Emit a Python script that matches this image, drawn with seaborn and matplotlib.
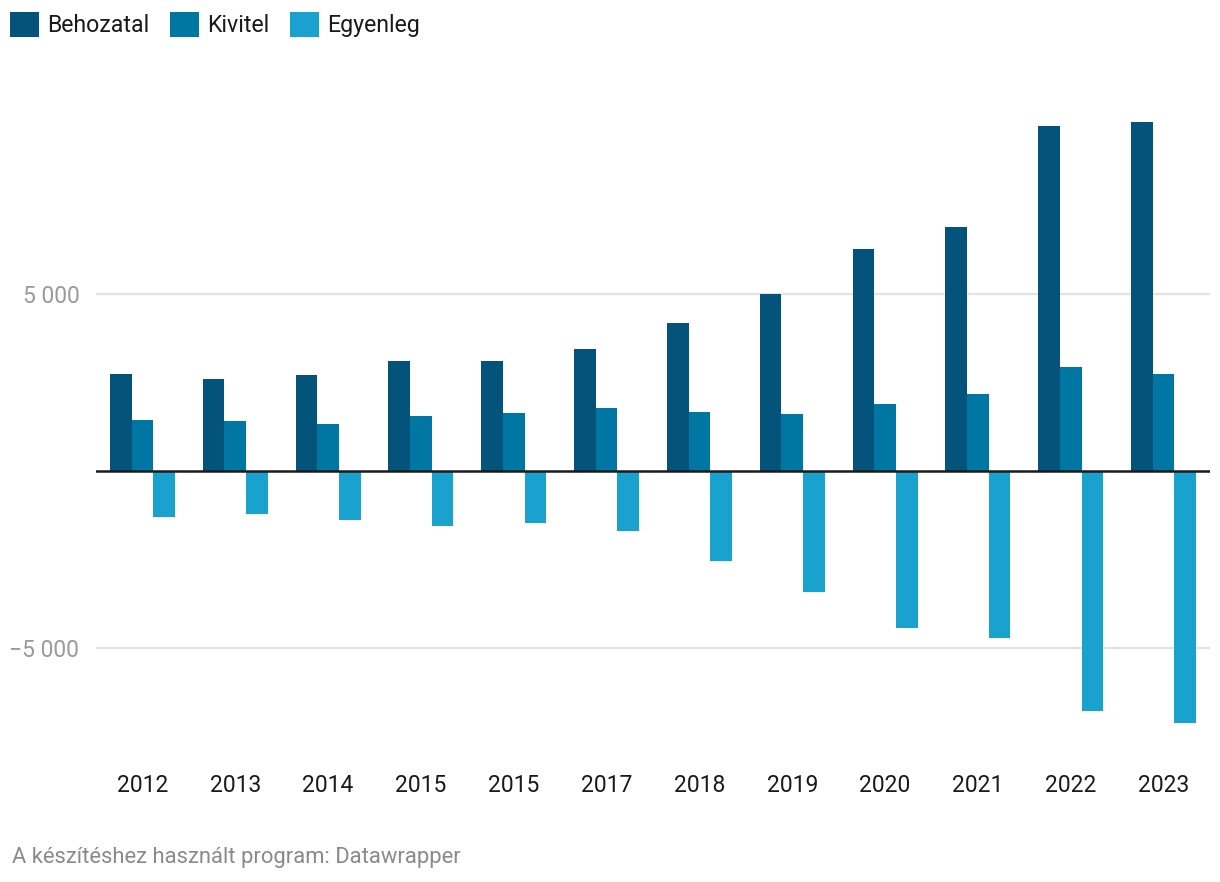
import matplotlib
matplotlib.use("Agg")
import matplotlib.pyplot as plt
import seaborn as sns
import pandas as pd

years = ["2012", "2013", "2014", "2015", "2015", "2017", "2018", "2019", "2020", "2021", "2022", "2023"]
behozatal = [2740, 2600, 2710, 3110, 3110, 3450, 4180, 5000, 6270, 6890, 9750, 9860]
kivitel = [1440, 1410, 1330, 1550, 1640, 1780, 1670, 1610, 1890, 2180, 2940, 2740]
egyenleg = [-1300, -1220, -1390, -1560, -1480, -1700, -2550, -3430, -4420, -4730, -6780, -7110]
series = ["Behozatal", "Kivitel", "Egyenleg"]
colors = ["#03537a", "#0077a2", "#19a2ce"]

rows = []
for i, y in enumerate(years):
    for s, vals in zip(series, [behozatal, kivitel, egyenleg]):
        rows.append({"pos": str(i), "series": s, "value": vals[i]})
df = pd.DataFrame(rows)

sns.set_style("white")
plt.rcParams["font.family"] = ["Roboto", "DejaVu Sans"]

fig = plt.figure(figsize=(12.2, 8.82), dpi=100)
ax = fig.add_axes([96 / 1220, 1 - 750 / 882, 1114 / 1220, 650 / 882])

sns.barplot(data=df, x="pos", y="value", hue="series", order=[str(i) for i in range(len(years))],
            hue_order=series, palette=colors, width=0.7, gap=0, saturation=1,
            errorbar=None, ax=ax, zorder=3, linewidth=0, edgecolor="none")

ax.set_xlim(-0.5, len(years) - 0.5)
ax.set_ylim(-7880, 10480)
ax.set_yticks([-5000, 5000])
ax.set_yticklabels(["\u22125 000", "5 000"])
ax.set_xticks(range(len(years)))
ax.set_xticklabels(years)
ax.set_xlabel("")
ax.set_ylabel("")
for y in [-5000, 5000]:
    ax.axhline(y, color="#e3e3e3", lw=1.6, zorder=1)
ax.axhline(0, color="#1a1a1a", lw=1.8, zorder=4)
for sp in ax.spines.values():
    sp.set_visible(False)
ax.tick_params(axis="y", length=0, pad=12, labelsize=16.5, labelcolor="#9a9a9a")
ax.tick_params(axis="x", length=0, pad=17.5, labelsize=16.5, labelcolor="#1a1a1a")

handles, labels = ax.get_legend_handles_labels()
if ax.get_legend() is not None:
    ax.get_legend().remove()
fig.legend(handles, labels, loc="upper left", bbox_to_anchor=(10 / 1220, 1 - 12 / 882), ncol=3,
           frameon=False, fontsize=16.7, handlelength=1.25, handleheight=1.25, handletextpad=0.35,
           columnspacing=0.9, borderaxespad=0, borderpad=0, labelcolor="#1a1a1a")

fig.text(12 / 1220, 1 - 858 / 882, "A készítéshez használt program: Datawrapper", fontsize=15.8,
         color="#8a8a8a", ha="left", va="center")

fig.savefig("out.png", dpi=100, facecolor="white")
